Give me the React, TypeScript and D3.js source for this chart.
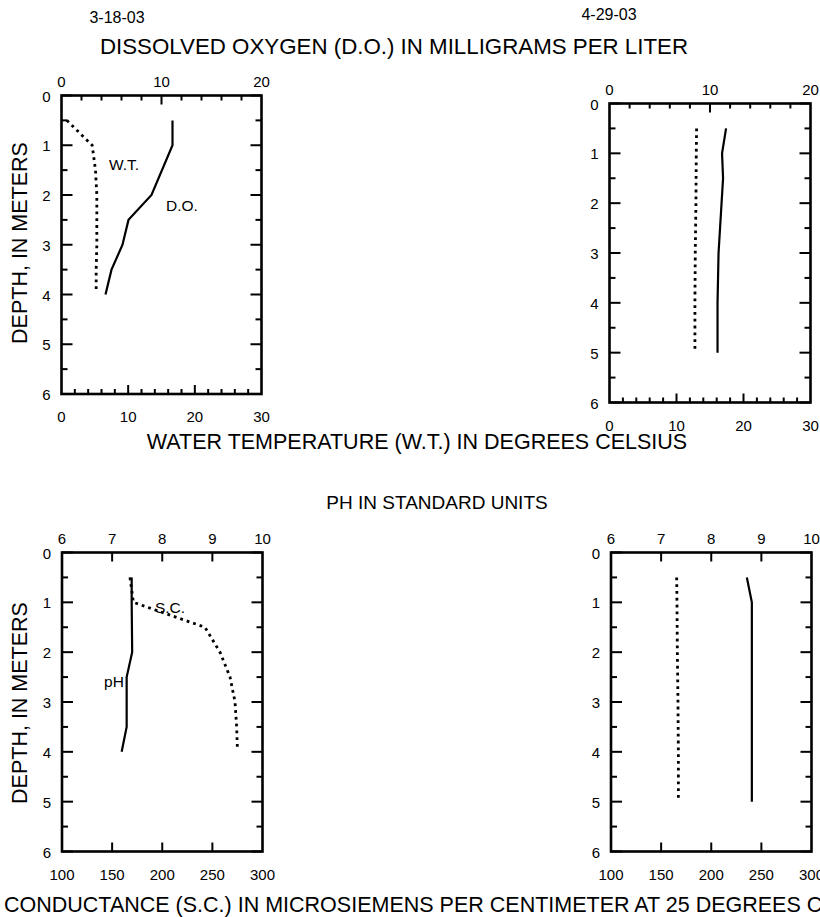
import React from "react";
import * as d3 from "d3";

// ---- Data ----
const depthTicksMajor = [0, 1, 2, 3, 4, 5, 6];
const depthTicksMinor = [0.5, 1.5, 2.5, 3.5, 4.5, 5.5];

const doTicks = [0, 10, 20];
const wtTicks = [0, 10, 20, 30];
const phTicks = [6, 7, 8, 9, 10];
const scTicks = [100, 150, 200, 250, 300];

// 3-18-03
const doDepth1 = [0.5, 1, 2, 2.5, 3, 3.5, 4];
const doValues1 = [11.1, 11.1, 9.0, 6.7, 6.1, 5.0, 4.4];
const wtDepth1 = [0.5, 1, 1.5, 2, 2.5, 3, 3.5, 3.9];
const wtValues1 = [0.8, 4.6, 5.1, 5.3, 5.3, 5.3, 5.2, 5.2];
const phDepth1 = [0.5, 1, 2, 2.5, 3, 3.5, 4];
const phValues1 = [7.39, 7.39, 7.4, 7.29, 7.29, 7.29, 7.19];
const scDepth1 = [0.5, 1, 1.5, 2, 2.5, 3, 3.5, 3.9];
const scValues1 = [167.8, 171.2, 242.6, 257.6, 267.6, 272.6, 274.2, 274.9];

// 4-29-03
const doDepth2 = [0.5, 1, 1.5, 2, 3, 4, 5];
const doValues2 = [11.6, 11.2, 11.3, 11.15, 10.85, 10.75, 10.75];
const wtDepth2 = [0.5, 1, 2, 3, 4, 5];
const wtValues2 = [13.0, 12.95, 12.9, 12.8, 12.75, 12.75];
const phDepth2 = [0.5, 1, 2, 3, 4, 5];
const phValues2 = [8.71, 8.81, 8.81, 8.81, 8.81, 8.81];
const scDepth2 = [0.5, 1, 2, 3, 4, 5];
const scValues2 = [165.5, 165.8, 166.2, 166.8, 167.2, 167.2];

const FONT = "'Liberation Sans', Arial, Helvetica, sans-serif";

type Box = { x0: number; x1: number; y0: number; y1: number };

type AxisSpec = {
  domain: [number, number];
  labels: number[];
  major: number[];
  minor: number[];
};

type Series = { depth: number[]; vals: number[]; axis: "top" | "bottom" };

function Panel({
  box,
  top,
  bottom,
  solid,
  dotted,
}: {
  box: Box;
  top: AxisSpec;
  bottom: AxisSpec;
  solid: Series;
  dotted: Series;
}) {
  const y = d3.scaleLinear().domain([0, 6]).range([box.y0, box.y1]);
  const xt = d3.scaleLinear().domain(top.domain).range([box.x0, box.x1]);
  const xb = d3.scaleLinear().domain(bottom.domain).range([box.x0, box.x1]);

  const mk = (s: Series) => {
    const sx = s.axis === "top" ? xt : xb;
    const pts = s.depth.map((d, i) => [sx(s.vals[i]), y(d)] as [number, number]);
    return d3.line()(pts) || "";
  };

  const tickW = 2;
  return (
    <g>
      {depthTicksMajor.map((d) => (
        <g key={"ym" + d}>
          <line x1={box.x0} x2={box.x0 + 11} y1={y(d)} y2={y(d)} stroke="#000" strokeWidth={tickW} />
          <line x1={box.x1} x2={box.x1 - 11} y1={y(d)} y2={y(d)} stroke="#000" strokeWidth={tickW} />
          <text x={box.x0 - 11} y={y(d) + 6} textAnchor="end" fontSize={15} fontFamily={FONT}>
            {d}
          </text>
        </g>
      ))}
      {depthTicksMinor.map((d) => (
        <g key={"yn" + d}>
          <line x1={box.x0} x2={box.x0 + 6} y1={y(d)} y2={y(d)} stroke="#000" strokeWidth={tickW} />
          <line x1={box.x1} x2={box.x1 - 6} y1={y(d)} y2={y(d)} stroke="#000" strokeWidth={tickW} />
        </g>
      ))}
      {top.major.map((v) => (
        <line key={"tm" + v} x1={xt(v)} x2={xt(v)} y1={box.y0} y2={box.y0 + 9} stroke="#000" strokeWidth={tickW} />
      ))}
      {top.minor.map((v) => (
        <line key={"tn" + v} x1={xt(v)} x2={xt(v)} y1={box.y0} y2={box.y0 + 5} stroke="#000" strokeWidth={tickW} />
      ))}
      {top.labels.map((v) => (
        <text key={"tl" + v} x={xt(v)} y={box.y0 - 9} textAnchor="middle" fontSize={15} fontFamily={FONT}>
          {v}
        </text>
      ))}
      {bottom.major.map((v) => (
        <line key={"bm" + v} x1={xb(v)} x2={xb(v)} y1={box.y1} y2={box.y1 - 9} stroke="#000" strokeWidth={tickW} />
      ))}
      {bottom.minor.map((v) => (
        <line key={"bn" + v} x1={xb(v)} x2={xb(v)} y1={box.y1} y2={box.y1 - 5} stroke="#000" strokeWidth={tickW} />
      ))}
      {bottom.labels.map((v) => (
        <text key={"bl" + v} x={xb(v)} y={box.y1 + 28} textAnchor="middle" fontSize={15} fontFamily={FONT}>
          {v}
        </text>
      ))}
      <rect
        x={box.x0}
        y={box.y0}
        width={box.x1 - box.x0}
        height={box.y1 - box.y0}
        fill="none"
        stroke="#000"
        strokeWidth={2.6}
      />
      <path d={mk(dotted)} fill="none" stroke="#000" strokeWidth={2.8} strokeDasharray="2.8,4" />
      <path d={mk(solid)} fill="none" stroke="#000" strokeWidth={2.2} />
    </g>
  );
}

const range = (a: number, b: number, s: number) => d3.range(a, b + 1e-9, s);

const doAxis: AxisSpec = {
  domain: [0, 20],
  labels: doTicks,
  major: [10],
  minor: range(2, 18, 2).filter((v) => v !== 10),
};
const wtAxis: AxisSpec = {
  domain: [0, 30],
  labels: wtTicks,
  major: [10, 20],
  minor: range(2, 28, 2).filter((v) => v !== 10 && v !== 20),
};
const phAxis: AxisSpec = {
  domain: [6, 10],
  labels: phTicks,
  major: [7, 8, 9],
  minor: [],
};
const scAxis: AxisSpec = {
  domain: [100, 300],
  labels: scTicks,
  major: [150, 200, 250],
  minor: [],
};

export default function App() {
  const TL: Box = { x0: 61.5, x1: 261.5, y0: 95.5, y1: 394 };
  const TR: Box = { x0: 609.5, x1: 810.5, y0: 103.5, y1: 402.5 };
  const BL: Box = { x0: 62, x1: 262.5, y0: 552.5, y1: 851.5 };
  const BR: Box = { x0: 611, x1: 811.5, y0: 552.5, y1: 851.5 };

  return (
    <svg
      width={820}
      height={917}
      style={{ position: "absolute", left: 0, top: 0, background: "#fff" }}
      fontFamily={FONT}
    >
      <rect x={0} y={0} width={820} height={917} fill="#fff" />
      <text x={117} y={23} textAnchor="middle" fontSize={16}>3-18-03</text>
      <text x={609} y={20} textAnchor="middle" fontSize={16}>4-29-03</text>
      <text x={394} y={54} textAnchor="middle" fontSize={22.3}>
        DISSOLVED OXYGEN (D.O.) IN MILLIGRAMS PER LITER
      </text>
      <text x={417} y={449} textAnchor="middle" fontSize={21.5}>
        WATER TEMPERATURE (W.T.) IN DEGREES CELSIUS
      </text>
      <text x={437} y={509} textAnchor="middle" fontSize={19}>
        PH IN STANDARD UNITS
      </text>
      <text x={4} y={912} textAnchor="start" fontSize={21.5}>
        CONDUCTANCE (S.C.) IN MICROSIEMENS PER CENTIMETER AT 25 DEGREES CELSIUS
      </text>
      <text transform="translate(27,243) rotate(-90)" textAnchor="middle" fontSize={21.5}>
        DEPTH, IN METERS
      </text>
      <text transform="translate(27,703) rotate(-90)" textAnchor="middle" fontSize={21.5}>
        DEPTH, IN METERS
      </text>

      <Panel
        box={TL}
        top={doAxis}
        bottom={wtAxis}
        solid={{ depth: doDepth1, vals: doValues1, axis: "top" }}
        dotted={{ depth: wtDepth1, vals: wtValues1, axis: "bottom" }}
      />
      <Panel
        box={TR}
        top={doAxis}
        bottom={wtAxis}
        solid={{ depth: doDepth2, vals: doValues2, axis: "top" }}
        dotted={{ depth: wtDepth2, vals: wtValues2, axis: "bottom" }}
      />
      <Panel
        box={BL}
        top={phAxis}
        bottom={scAxis}
        solid={{ depth: phDepth1, vals: phValues1, axis: "top" }}
        dotted={{ depth: scDepth1, vals: scValues1, axis: "bottom" }}
      />
      <Panel
        box={BR}
        top={phAxis}
        bottom={scAxis}
        solid={{ depth: phDepth2, vals: phValues2, axis: "top" }}
        dotted={{ depth: scDepth2, vals: scValues2, axis: "bottom" }}
      />

      <text x={124} y={170} textAnchor="middle" fontSize={15.5}>W.T.</text>
      <text x={182} y={211} textAnchor="middle" fontSize={15.5}>D.O.</text>
      <text x={170} y={613} textAnchor="middle" fontSize={15.5}>S.C.</text>
      <text x={114} y={687} textAnchor="middle" fontSize={15.5}>pH</text>
    </svg>
  );
}
